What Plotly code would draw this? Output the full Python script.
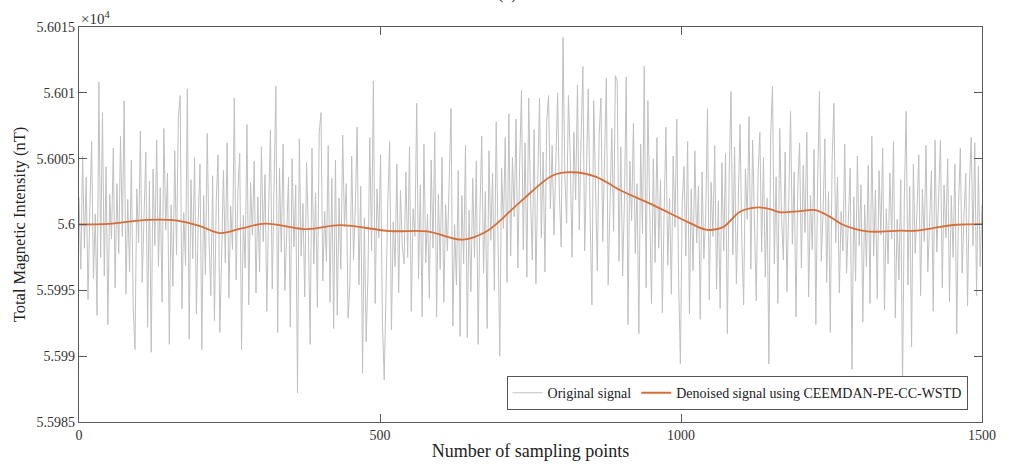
import plotly.graph_objects as go

BASE = 56000.0  # nT; offsets below are relative to this level

# Original (noisy) signal, one value every 3 samples, in nT relative to BASE
orig_step = 3
orig_offsets = [
    2.1, -3.4, 5.2, -1.8, 3.6, -5.7, 1.2, 6.3, -4.1, 0.8, -6.9, 10.8, -2.5, 8.5, -3.9, 4.4, -7.6, 2.3, -1.1, 5.8,
    -4.8, 3.1, -2.2, 6.7, -0.9, 9.4, -5.3, 1.9, -3.6, 4.9, -6.2, -9.5, 2.7, -1.4, 7.1, -4.4, 0.6, 5.5, -7.8, 3.3,
    -9.7, 4.2, -1.6, 6.4, -3.2, 2.8, -5.9, 7.3, -0.4, 3.9, -9.1, 1.5, -4.7, 5.6, -2.3, 8.1, 9.8, -6.4, 0.9, -3.1,
    10.3, -8.7, 3.4, -2.6, 5.1, -6.8, 0.3, 4.6, -9.5, 2.2, -3.8, 6.9, -1.2, -5.4, 3.7, -7.3, 1.8, 5.3, -8.2, -0.7,
    4.1, -2.9, 6.2, -5.6, 1.4, -1.9, 9.6, -4.2, 2.6, 5.4, -9.5, 0.7, -3.3, 7.6, -6.1, 3.2, -0.8, 4.8, -5.2, 2.1,
    -3.6, 5.9, -1.3, 3.8, -6.6, 1.1, 7.2, -4.9, 2.5, 10.5, -8.2, 4.3, -2.1, 6.1, -5.0, 0.4, 3.6, -7.8, 5.0, -1.7,
    3.0, -12.8, 6.5, -2.4, 1.6, -5.5, 4.7, -0.6, -9.1, 5.8, -3.0, 2.4, -6.3, 7.0, 8.5, -4.3, 1.0, -2.8, 6.0, -5.9,
    3.5, -7.9, 4.9, -6.9, 2.0, -3.4, 6.8, -0.2, 3.1, -7.1, -4.5, 5.2, -2.7, 1.3, 7.4, -4.6, 2.9, -11.3, 0.5, -8.9,
    -3.9, 6.6, -2.0, 10.9, -6.0, 2.7, -1.0, 5.3, -7.4, -11.8, -4.4, 1.7, 6.3, -8.0, 0.2, -3.2, 4.6, -5.2, 2.6, -1.6,
    -3.0, 4.0, -2.5, 5.9, -6.6, 1.2, -0.9, 9.2, -4.1, 3.0, -7.0, 6.1, -2.9, 0.8, -5.6, 4.9, -1.8, 7.0, -7.0, 2.3,
    -3.4, 5.1, -5.9, 1.5, -2.0, 3.6, 8.8, -7.7, 0.0, -4.6, 4.1, -8.5, 2.2, -3.0, 6.0, -8.6, 1.1, -5.1, 3.5, -2.5,
    4.8, -9.1, 0.9, 6.7, -3.7, 2.5, -7.9, 5.6, -1.2, 3.9, -5.0, 7.8, -2.1, -10.0, 4.3, -0.3, 6.6, -4.4, 8.4, -2.4,
    5.1, 0.6, 8.0, -3.3, 4.6, 10.2, -1.9, 6.2, -4.0, 9.6, 2.0, -2.7, 7.2, -4.5, 3.3, 9.6, -1.0, 5.5, -3.6, 7.9,
    9.8, 1.2, 6.0, -0.8, 4.5, 10.0, 2.3, -1.7, 14.2, 3.8, 0.1, 9.8, 5.2, -2.5, 7.0, 1.9, 10.6, -0.4, 6.4, 12.0,
    -2.0, 5.4, 10.3, 0.6, -6.1, 9.4, 3.0, -3.5, 6.8, 9.6, -1.3, 4.2, 11.1, -4.6, 2.5, 7.3, -0.5, 11.3, 10.9, -2.8,
    5.9, -3.9, 1.7, 11.2, -7.6, 4.8, 0.3, 7.7, -2.2, 3.1, -8.3, 6.1, -0.7, 12.0, -4.8, 9.4, 1.3, -6.0, 5.0, -2.9,
    6.6, -1.8, 3.4, -6.7, 0.9, 7.4, -3.1, 2.0, -5.3, 5.2, -0.2, 8.0, -4.1, -10.6, 1.6, 4.4, -2.4, 6.3, -6.8, 2.7,
    -3.5, 5.6, -1.4, 2.9, -7.2, 4.0, -2.6, 0.7, 8.8, -5.7, 3.2, -0.9, 6.0, -4.9, 1.8, -6.4, 4.7, -2.0, 5.4, -8.3,
    3.7, 10.1, -2.3, 5.9, -4.5, 2.4, 7.6, -1.1, -6.1, 4.2, 0.4, 8.2, -3.4, 6.4, -0.6, -5.8, 3.9, 7.0, -2.1, 5.1,
    -4.0, 2.0, -10.6, 6.8, 10.5, -3.0, 3.6, -6.0, 7.3, 0.6, -2.7, 5.5, -5.1, 1.4, 8.6, -1.5, 4.0, -7.0, 2.8, 6.2,
    -3.3, 4.5, -0.6, 7.0, -5.5, 2.2, -1.9, 5.7, -7.6, 3.3, 10.1, -2.8, 0.9, 6.5, -4.4, 2.5, -8.2, 4.8, 9.2, -1.4,
    3.6, -5.2, 1.0, -2.0, 6.1, -3.7, 0.0, 4.3, -11.0, 2.1, -4.3, 5.2, -1.6, 3.0, -7.4, 1.5, -3.2, 4.5, -6.0, 6.7,
    -2.4, 2.6, -5.6, 4.1, -0.8, 5.8, -6.5, 1.2, -3.0, 3.9, -1.1, 6.3, -7.1, 0.4, -4.2, 3.4, -12.5, 2.0, 8.6, -4.6,
    2.9, -9.3, 4.6, -2.2, 1.0, 5.3, -5.4, 2.7, -1.3, 6.0, -3.6, 0.2, 4.1, -6.6, 6.4, -2.1, 1.9, 6.4, -4.8, 3.0,
    -1.0, 5.0, -5.9, 2.2, -2.5, 4.6, -8.3, 1.3, 5.8, -3.7, 0.6, 3.9, -6.2, 2.8, 6.6, -1.6, 6.2, -5.4, 4.4, -3.2,
    1.5,
]

# Denoised signal (CEEMDAN-PE-CC-WSTD), read at irregular sample positions
den_x = [0, 50, 113, 163, 200, 234, 270, 309, 379, 434, 517, 578, 638, 678,
         733, 787, 819, 860, 899, 954, 1010, 1043, 1070, 1098, 1128, 1148, 1164,
         1198, 1223, 1247, 1269, 1309, 1364, 1392, 1419, 1458, 1500]
den_offsets = [0.0, 0.05, 0.35, 0.3, -0.1, -0.65, -0.3, 0.07, -0.35, -0.05, -0.5, -0.52, -1.15, -0.5,
               1.72, 3.72, 3.97, 3.6, 2.6, 1.47, 0.22, -0.4, -0.2, 0.97, 1.3, 1.17, 0.93,
               1.02, 1.1, 0.6, -0.02, -0.52, -0.47, -0.47, -0.27, -0.02, 0.03]

x_ticks = [0, 500, 1000, 1500]
y_tickvals = [55985, 55990, 55995, 56000, 56005, 56010, 56015]
y_ticktext = ["5.5985", "5.599", "5.5995", "5.6", "5.6005", "5.601", "5.6015"]

orig_x = [i * orig_step for i in range(len(orig_offsets))]
orig_y = [BASE + v for v in orig_offsets]
den_y = [BASE + v for v in den_offsets]

FONT = "Liberation Serif, Times New Roman, serif"
AXIS_COLOR = "#5a5a5a"

fig = go.Figure()
fig.add_trace(go.Scatter(
    x=orig_x, y=orig_y, mode="lines", name="Original signal",
    line=dict(color="rgb(192,192,192)", width=1.0),
))
fig.add_trace(go.Scatter(
    x=den_x, y=den_y, mode="lines", name="Denoised signal using CEEMDAN-PE-CC-WSTD",
    line=dict(color="#D56E38", width=1.8, shape="spline", smoothing=1.0),
))

fig.update_layout(
    width=1010, height=470,
    margin=dict(l=79, r=28, t=27, b=42),
    paper_bgcolor="white", plot_bgcolor="white",
    font=dict(family=FONT, size=14, color="#333333"),
    showlegend=True,
    legend=dict(
        orientation="h", x=0.984, xanchor="right", y=0.03, yanchor="bottom",
        bgcolor="white", bordercolor="#555555", borderwidth=1,
        font=dict(family=FONT, size=14, color="#222222"),
        itemwidth=30, tracegroupgap=0,
    ),
    xaxis=dict(
        range=[0, 1500], tickvals=x_ticks, ticktext=[str(t) for t in x_ticks],
        ticks="inside", ticklen=8, tickcolor=AXIS_COLOR, tickwidth=1,
        showline=True, linecolor=AXIS_COLOR, linewidth=1.2, mirror="ticks",
        showgrid=False, zeroline=False,
        tickfont=dict(family=FONT, size=14, color="#333333"),
        title=dict(text="Number of sampling points", standoff=2,
                   font=dict(family=FONT, size=18, color="#222222")),
    ),
    yaxis=dict(
        range=[55985, 56015], tickvals=y_tickvals, ticktext=y_ticktext,
        ticks="inside", ticklen=8, tickcolor=AXIS_COLOR, tickwidth=1,
        showline=True, linecolor=AXIS_COLOR, linewidth=1.2, mirror="ticks",
        showgrid=False, zeroline=False,
        tickfont=dict(family=FONT, size=14, color="#333333"),
        title=dict(text="Total Magnetic Intensity (nT)", standoff=6,
                   font=dict(family=FONT, size=16.5, color="#222222")),
    ),
    annotations=[
        dict(text="×10<sup>4</sup>", xref="paper", yref="paper", x=0, y=1,
             xanchor="left", yanchor="bottom", showarrow=False, yshift=-2,
             font=dict(family=FONT, size=15, color="#333333")),
        dict(text="(b)", xref="paper", yref="paper", x=0.474, y=1,
             xanchor="center", yanchor="bottom", showarrow=False, yshift=22,
             font=dict(family=FONT, size=16, color="#222222")),
    ],
)

fig.write_html("out.html")
